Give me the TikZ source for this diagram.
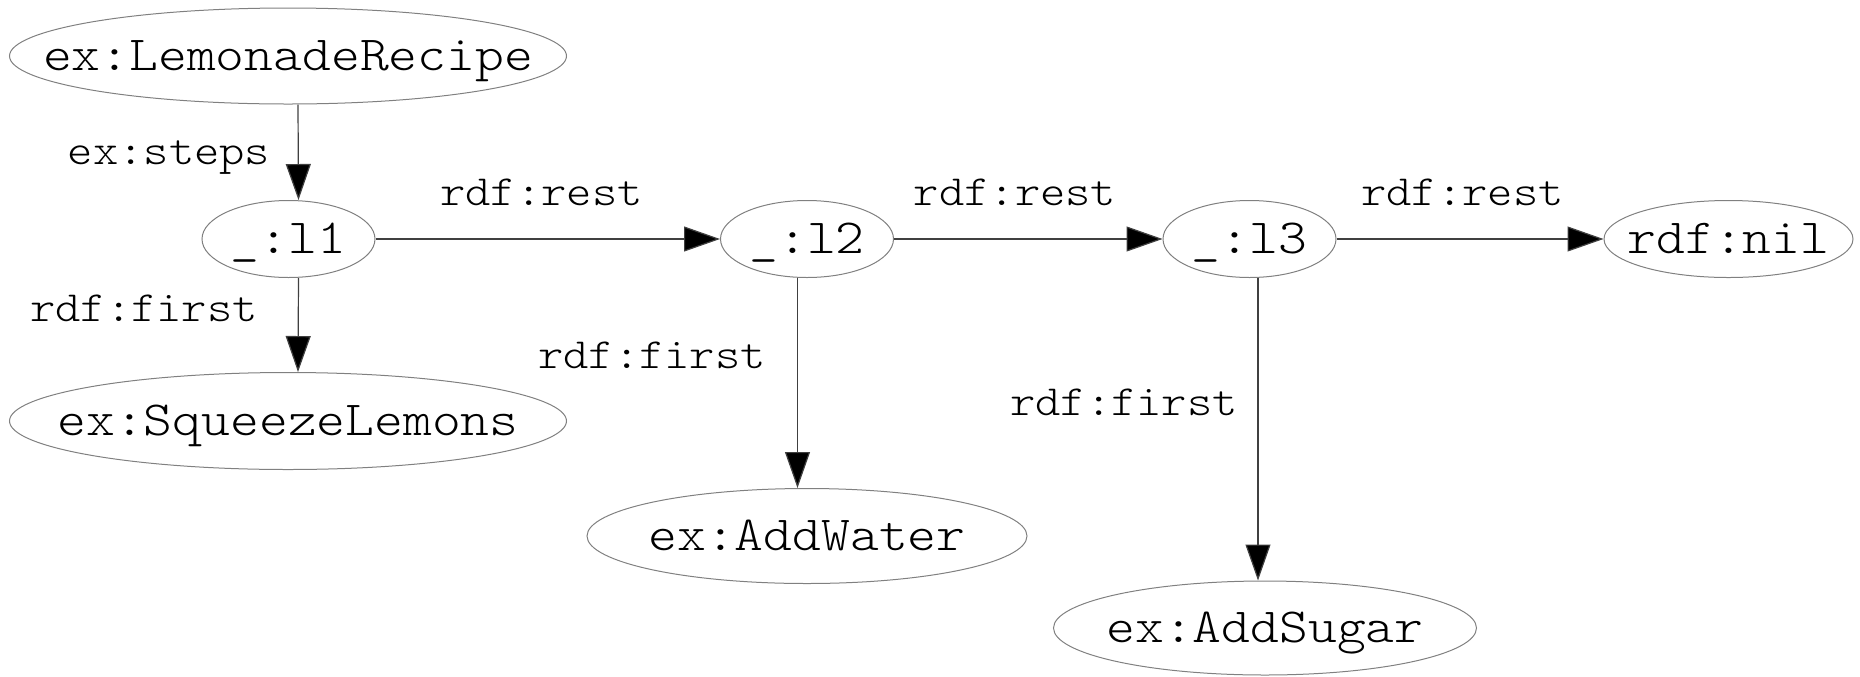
\documentclass[tikz,border=0pt]{standalone}
\usepackage{fontspec}
\newfontfamily\monofont{Latin Modern Mono Light}[FakeStretch=1.12]
\usetikzlibrary{shapes.geometric,arrows.meta}

% text set on the node centre line, so that the ellipse takes only its given size
\newcommand{\restext}[1]{\makebox[0pt]{\raisebox{-7.2pt}[0pt][0pt]{#1}}}

\tikzset{
  res/.style={ellipse, draw=black!50, line width=0.5pt, inner sep=0pt,
    font=\fontsize{24.5pt}{28pt}\monofont},
  lbl/.style={anchor=base, inner sep=0pt, font=\fontsize{21.5pt}{25pt}\monofont},
  rel/.style={draw=black!75, line width=0.6pt,
    -{Triangle[length=18pt, width=12.5pt, fill=black]}},
}

\begin{document}
\begin{tikzpicture}[x=0.5pt, y=-0.5pt]
  \useasboundingbox (0,0) rectangle (1860,676);

  % resources
  \node[res, minimum width=278.5pt, minimum height=48pt] (rec) at (288,56) {\restext{ex:LemonadeRecipe}};
  \node[res, minimum width=86.5pt, minimum height=38.5pt] (l1) at (288.5,239) {\restext{\_:l1}};
  \node[res, minimum width=278.5pt, minimum height=48.5pt] (sq) at (288,421) {\restext{ex:SqueezeLemons}};
  \node[res, minimum width=86.5pt, minimum height=38.5pt] (l2) at (807,239) {\restext{\_:l2}};
  \node[res, minimum width=220pt, minimum height=47.5pt] (water) at (807,536) {\restext{ex:AddWater}};
  \node[res, minimum width=86.5pt, minimum height=38.5pt] (l3) at (1249.5,239) {\restext{\_:l3}};
  \node[res, minimum width=124.5pt, minimum height=38.5pt] (nil) at (1728.5,239) {\restext{rdf:nil}};
  \node[res, minimum width=211.5pt, minimum height=47pt] (sugar) at (1265,628) {\restext{ex:AddSugar}};

  % predicates
  \draw[rel] ([xshift=5pt]rec.south) -- ([xshift=5pt]l1.north);
  \draw[rel] ([xshift=5pt]l1.south) -- ([xshift=5pt]sq.north);
  \draw[rel] (l1.east) -- (l2.west);
  \draw[rel] ([xshift=-4.75pt]l2.south) -- ([xshift=-4.75pt]water.north);
  \draw[rel] (l2.east) -- (l3.west);
  \draw[rel] ([xshift=4.25pt]l3.south) -- ([xshift=-3.5pt]sugar.north);
  \draw[rel] (l3.east) -- (nil.west);

  % predicate labels
  \node[lbl] (tsteps) at (169,164.5) {ex:steps};
  \node[lbl] (trest1) at (541.5,205.5) {rdf:rest};
  \node[lbl] (trest2) at (1015,205.5) {rdf:rest};
  \node[lbl] (trest3) at (1462.5,205.5) {rdf:rest};
  \node[lbl] (tfirst1) at (144,321) {rdf:first};
  \node[lbl] (tfirst2) at (652,368) {rdf:first};
  \node[lbl] (tfirst3) at (1124,415) {rdf:first};
\end{tikzpicture}
\end{document}
